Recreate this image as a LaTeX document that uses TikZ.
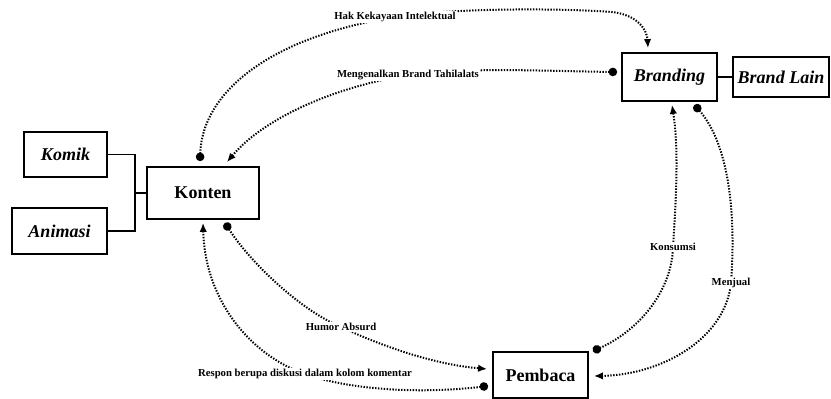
\documentclass[tikz,border=0pt]{standalone}
\usepackage{fontspec}
\setmainfont{Liberation Serif}
\usetikzlibrary{arrows.meta}
\begin{document}
\begin{tikzpicture}[x=1pt,y=-1pt,
  boxnode/.style={draw,line width=1.8pt,inner sep=0pt,font=\fontsize{18}{20}\selectfont\bfseries},
  itbox/.style={boxnode,font=\fontsize{18}{20}\selectfont\bfseries\itshape},
  treeline/.style={line width=1.6pt},
  dotline/.style={line width=2pt,dash pattern=on 1.4pt off 1.5pt},
  ar/.style={dotline,{Circle[length=8.5pt]}-{Latex[length=9pt,width=7.5pt]}},
  lbl/.style={fill=white,inner sep=1pt,font=\fontsize{10.7}{12}\selectfont\bfseries}]
\useasboundingbox (0,0) rectangle (831,399);
% boxes
\node[itbox,minimum width=83pt,minimum height=45pt] (komik) at (65.5,154.5) {Komik};
\node[itbox,minimum width=95pt,minimum height=46pt] (animasi) at (59.5,231) {Animasi};
\node[boxnode,minimum width=112pt,minimum height=52pt] (konten) at (203,193) {Konten};
\node[itbox,minimum width=95pt,minimum height=48pt] (branding) at (669.5,77) {Branding};
\node[itbox,minimum width=96pt,minimum height=40pt] (brandlain) at (781,77) {Brand Lain};
\node[boxnode,minimum width=95pt,minimum height=46pt] (pembaca) at (540.5,375) {Pembaca};
% tree connectors
\coordinate (j) at ([xshift=-11pt]konten.west);
\draw[treeline] (komik.east) -| (j);
\draw[treeline] (animasi.east) -| (j);
\draw[treeline] (j) -- (konten.west);
\draw[treeline] (branding.east) -- (brandlain.west);
% label positions
\coordinate (lhak) at (395,17);
\coordinate (lmen) at (408,75);
\coordinate (lkon) at (673,247);
\coordinate (ljual) at (731,283);
\coordinate (lhum) at (341,327);
\coordinate (lres) at (305,374);
% dotted connectors
\draw[ar] ([xshift=-3pt,yshift=5pt]konten.north) .. controls (202,95) and (265,38) .. (lhak)
  .. controls (450,8) and (560,8) .. (612,12) .. controls (638,15) and (647,30) .. ([xshift=-21.5pt,yshift=4pt]branding.north);
\draw[ar] ([xshift=-4pt,yshift=5pt]branding.west) .. controls (540,71) and (470,67) .. (lmen)
  .. controls (330,88) and (262,120) .. ([xshift=24pt,yshift=4pt]konten.north);
\draw[ar] ([xshift=4pt]pembaca.north east) .. controls (640,330) and (672,290) .. (lkon)
  .. controls (676,200) and (679,150) .. ([xshift=2.5pt,yshift=-3pt]branding.south);
\draw[ar] ([xshift=25pt,yshift=-3pt]branding.south) .. controls (725,140) and (737,200) .. (ljual)
  .. controls (725,340) and (660,375) .. ([xshift=5pt,yshift=-1pt]pembaca.east);
\draw[ar] ([xshift=22pt,yshift=-3pt]konten.south) .. controls (250,262) and (300,310) .. (lhum)
  .. controls (390,350) and (440,365) .. ([xshift=-5pt,yshift=6pt]pembaca.west);
\draw[ar] ([xshift=-4pt,yshift=-11pt]pembaca.west) .. controls (420,394) and (350,390) .. (lres)
  .. controls (250,355) and (205,300) .. ([yshift=-3pt]konten.south);
% labels
\node[lbl] (thak) at (lhak) {Hak Kekayaan Intelektual};
\node[lbl] (tmen) at (lmen) {Mengenalkan Brand Tahilalats};
\node[lbl] (tkon) at (lkon) {Konsumsi};
\node[lbl] (tjual) at (ljual) {Menjual};
\node[lbl] (thum) at (lhum) {Humor Absurd};
\node[lbl] (tres) at (lres) {Respon berupa diskusi dalam kolom komentar};
\end{tikzpicture}
\end{document}
